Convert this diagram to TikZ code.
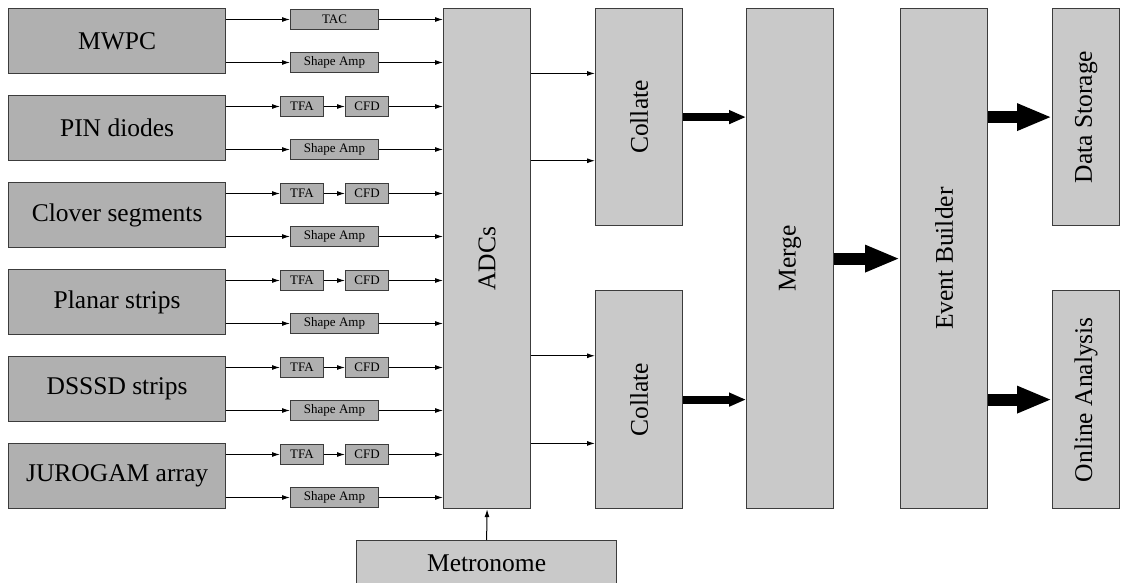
\documentclass[tikz,border=0pt]{standalone}
\usepackage{fontspec}
\setmainfont{Liberation Serif}
\usepackage{xcolor}
\definecolor{detgray}{RGB}{176,176,176}
\definecolor{unitgray}{RGB}{201,201,201}
\definecolor{edgegray}{RGB}{60,60,60}
\usetikzlibrary{calc,positioning,arrows.meta}

\begin{document}
\begin{tikzpicture}[x=1pt, y=-1pt,
    detbox/.style={draw=edgegray, fill=detgray, line width=1.2pt, anchor=north west, inner sep=0pt,
        minimum width=217pt, minimum height=65pt, font=\fontsize{25.5}{30}\selectfont},
    modbox/.style={draw=edgegray, fill=detgray, line width=1pt, anchor=north west, inner sep=0pt,
        minimum height=20pt, font=\fontsize{13}{15}\selectfont},
    unitbox/.style={draw=edgegray, fill=unitgray, line width=1.2pt, anchor=north west, inner sep=0pt,
        minimum width=87pt, font=\fontsize{25.5}{30}\selectfont},
    vtext/.style={rotate=90, font=\fontsize{25.5}{30}\selectfont},
    sig/.style={-{Latex[length=8pt,width=5pt]}, line width=1pt},
    bus/.style={-{Triangle[length=17pt,width=13pt]}, line width=8pt},
    bigbus/.style={-{Triangle[length=35pt,width=25pt]}, line width=12pt}]
    \useasboundingbox (0,0) rectangle (1127,583);

    % Detectors
    \node[detbox] (mwpc) at (8,8) {MWPC};
    \node[detbox] (pin) at (8,95) {PIN diodes};
    \node[detbox] (clover) at (8,182) {Clover segments};
    \node[detbox] (planar) at (8,269) {Planar strips};
    \node[detbox] (dsssd) at (8,356) {DSSSD strips};
    \node[detbox] (jurogam) at (8,443) {JUROGAM array};

    % Processing units
    \node[unitbox, minimum height=500pt] (adc) at (443,8) {};
    \node[vtext] at (adc) {ADCs};
    \node[unitbox, minimum height=217pt] (collA) at (595,8) {};
    \node[vtext] at (collA) {Collate};
    \node[unitbox, minimum height=218pt] (collB) at (595,290) {};
    \node[vtext] at (collB) {Collate};
    \node[unitbox, minimum height=500pt] (merge) at (746,8) {};
    \node[vtext] at (merge) {Merge};
    \node[unitbox, minimum height=500pt] (eb) at (900,8) {};
    \node[vtext] at (eb) {Event Builder};
    \node[unitbox, minimum width=67pt, minimum height=217pt] (ds) at (1052,8) {};
    \node[vtext] at (ds) {Data Storage};
    \node[unitbox, minimum width=67pt, minimum height=218pt] (oa) at (1052,290) {};
    \node[vtext] at (oa) {Online Analysis};
    \node[unitbox, minimum width=260pt, minimum height=46pt] (metro) at (356,540) {Metronome};

    % MWPC chain
    \node[modbox, minimum width=88pt] (tac) at (290,9) {TAC};
    \node[modbox, minimum width=88pt] (amp1) at (290,52) {Shape Amp};
    \draw[sig] (mwpc.east |- tac.west) -- (tac.west);
    \draw[sig] (tac.east) -- (tac.east -| adc.west);
    \draw[sig] (mwpc.east |- amp1.west) -- (amp1.west);
    \draw[sig] (amp1.east) -- (amp1.east -| adc.west);

    % Timing and energy chains
    \foreach \det/\y [count=\i from 2] in {pin/95, clover/182, planar/269, dsssd/356, jurogam/443} {
        \node[modbox, minimum width=43pt] (tfa\i) at (280,\y+1) {TFA};
        \node[modbox, minimum width=43pt] (cfd\i) at (345,\y+1) {CFD};
        \node[modbox, minimum width=88pt] (amp\i) at (290,\y+44) {Shape Amp};
        \draw[sig] (\det.east |- tfa\i.west) -- (tfa\i.west);
        \draw[sig] (tfa\i.east) -- (cfd\i.west);
        \draw[sig] (cfd\i.east) -- (cfd\i.east -| adc.west);
        \draw[sig] (\det.east |- amp\i.west) -- (amp\i.west);
        \draw[sig] (amp\i.east) -- (amp\i.east -| adc.west);
    }

    % ADCs to collators
    \coordinate (inA1) at ($(collA.north west)!.3!(collA.south west)$);
    \coordinate (inA2) at ($(collA.north west)!.7!(collA.south west)$);
    \coordinate (inB1) at ($(collB.north west)!.3!(collB.south west)$);
    \coordinate (inB2) at ($(collB.north west)!.7!(collB.south west)$);
    \draw[sig] (inA1 -| adc.east) -- (inA1);
    \draw[sig] (inA2 -| adc.east) -- (inA2);
    \draw[sig] (inB1 -| adc.east) -- (inB1);
    \draw[sig] (inB2 -| adc.east) -- (inB2);
    \draw[sig] (metro.north) -- (adc.south);

    % Data flow
    \draw[bus] (collA.east) -- (collA.east -| merge.west);
    \draw[bus] (collB.east) -- (collB.east -| merge.west);
    \draw[bigbus] (merge.east) -- (merge.east -| eb.west);
    \draw[bigbus] (eb.east |- ds.west) -- (ds.west);
    \draw[bigbus] (eb.east |- oa.west) -- (oa.west);
\end{tikzpicture}
\end{document}
